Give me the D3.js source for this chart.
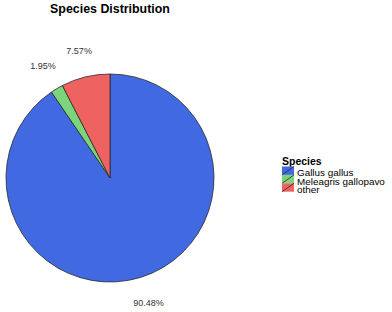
<!DOCTYPE html>
<html>
<head>
<meta charset="utf-8">
<script src="https://cdn.jsdelivr.net/npm/d3@7"></script>
<style>
  body { margin: 0; background: #fff; }
  text { font-family: "Liberation Sans", Arial, sans-serif; }
</style>
</head>
<body>
<svg id="chart" width="392" height="312"></svg>
<script>
// data
var species = ["Gallus gallus", "Meleagris gallopavo", "other"];
var shares = [90.48, 1.95, 7.57];
var colours = ["#4169e1", "#7cd57c", "#ef6262"];

var svg = d3.select("#chart");
var cx = 110, cy = 178, r = 104;

var data = species.map(function(s, i) { return {name: s, value: shares[i]}; });

var pie = d3.pie().sort(null).value(d => d.value);
var arc = d3.arc().innerRadius(0).outerRadius(r);
var labelArc = d3.arc().innerRadius(r * 1.26).outerRadius(r * 1.26);
var colour = d3.scaleOrdinal().domain(species).range(colours);

// title
svg.append("text")
    .attr("x", 110).attr("y", 13)
    .attr("text-anchor", "middle")
    .attr("font-size", 12.4).attr("font-weight", "bold")
    .text("Species Distribution");

var g = svg.append("g").attr("transform", "translate(" + cx + "," + cy + ")");

g.selectAll("path")
    .data(pie(data))
    .join("path")
    .attr("d", arc)
    .attr("fill", d => colour(d.data.name))
    .attr("stroke", "#2a2a2a")
    .attr("stroke-width", 0.8);

g.selectAll(".lbl")
    .data(pie(data))
    .join("text")
    .attr("class", "lbl")
    .attr("transform", d => "translate(" + labelArc.centroid(d) + ")")
    .attr("text-anchor", "middle")
    .attr("dy", "0.35em")
    .attr("font-size", 9)
    .attr("fill", "#333")
    .text(d => d.data.value.toFixed(2) + "%");

// legend
var leg = svg.append("g").attr("transform", "translate(282,148)");
leg.append("text")
    .attr("x", 0).attr("y", 16.5)
    .attr("font-size", 10.5).attr("font-weight", "bold")
    .text("Species");

var items = leg.selectAll(".item")
    .data(species)
    .join("g")
    .attr("class", "item")
    .attr("transform", (d, i) => "translate(0," + (18.5 + i * 8.4) + ")");

items.append("rect")
    .attr("width", 12).attr("height", 8.4)
    .attr("fill", d => colour(d));
items.append("line")
    .attr("x1", 0).attr("y1", 8.4).attr("x2", 12).attr("y2", 0)
    .attr("stroke", "#2a2a2a").attr("stroke-width", 0.8);
items.append("text")
    .attr("x", 15).attr("y", 9.8)
    .attr("font-size", 9.9)
    .text(d => d);
</script>
</body>
</html>
